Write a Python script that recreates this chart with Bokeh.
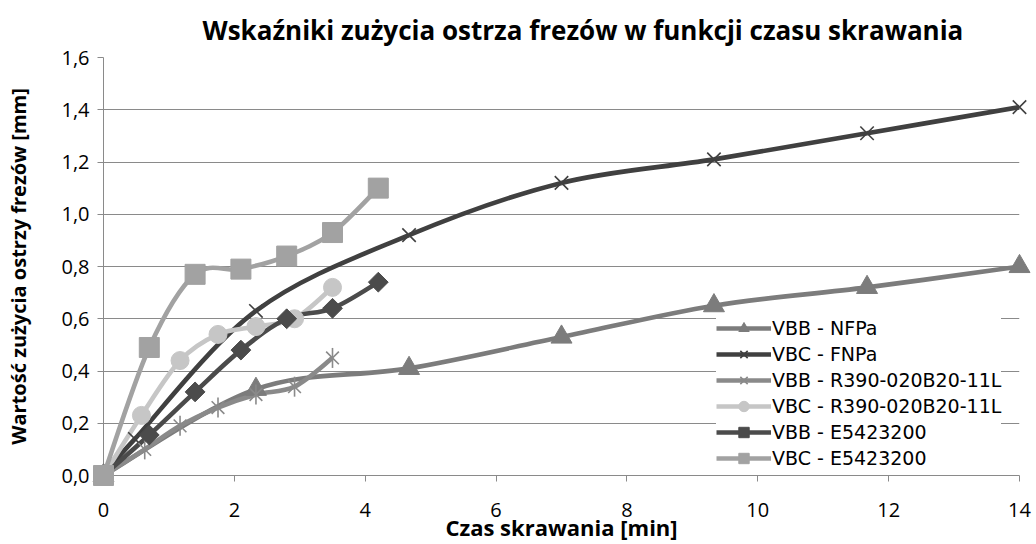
import numpy as np
from bokeh.plotting import figure
from bokeh.models import Legend, LegendItem, FixedTicker, Range1d
from bokeh.embed import file_html
from bokeh.resources import INLINE

FONT = "Open Sans"
LEG_FONT = "DejaVu Sans"

# ---------------- data ----------------
title_text = "Wskaźniki zużycia ostrza frezów w funkcji czasu skrawania"
x_label = "Czas skrawania [min]"
y_label = "Wartość zużycia ostrzy frezów [mm]"

x_ticks = [0, 2, 4, 6, 8, 10, 12, 14]
y_ticks = [0.0, 0.2, 0.4, 0.6, 0.8, 1.0, 1.2, 1.4, 1.6]
y_tick_labels = ["0,0", "0,2", "0,4", "0,6", "0,8", "1,0", "1,2", "1,4", "1,6"]

series_names = ["VBB - NFPa", "VBC - FNPa", "VBB - R390-020B20-11L",
                "VBC - R390-020B20-11L", "VBB - E5423200", "VBC - E5423200"]

nfpa_x = [0, 2.33, 4.67, 7.0, 9.33, 11.67, 14.0]
nfpa_vbb = [0, 0.33, 0.41, 0.53, 0.65, 0.72, 0.80]

fnpa_x = [0, 0.48, 2.33, 4.67, 7.0, 9.33, 11.67, 14.0]
fnpa_vbc = [0, 0.14, 0.63, 0.92, 1.12, 1.21, 1.31, 1.41]

r390_vbb_x = [0, 0.63, 1.17, 1.75, 2.33, 2.92, 3.5]
r390_vbb = [0, 0.10, 0.19, 0.26, 0.31, 0.34, 0.45]
r390_vbc_x = [0, 0.58, 1.17, 1.75, 2.33, 2.92, 3.5]
r390_vbc = [0, 0.23, 0.44, 0.54, 0.57, 0.60, 0.72]

e54_x = [0, 0.7, 1.4, 2.1, 2.8, 3.5, 4.2]
e54_vbb = [0, 0.155, 0.32, 0.48, 0.60, 0.64, 0.74]
e54_vbc = [0, 0.49, 0.77, 0.79, 0.84, 0.93, 1.10]

# ---------------- styles ----------------
styles = [
    dict(color="#7c7c7c", markers=[("triangle", 21, 0, 1)]),
    dict(color="#404040", markers=[("x", 19, 0, 1.6)]),
    dict(color="#8a8a8a", markers=[("x", 18, 0, 1.6), ("dash", 20, np.pi / 2, 1.6)]),
    dict(color="#c6c6c6", markers=[("circle", 18, 0, 1)]),
    dict(color="#4b4b4b", markers=[("square", 14, np.pi / 4, 1)]),
    dict(color="#a2a2a2", markers=[("square", 20, 0, 1)]),
]
series = [(nfpa_x, nfpa_vbb), (fnpa_x, fnpa_vbc), (r390_vbb_x, r390_vbb),
          (r390_vbc_x, r390_vbc), (e54_x, e54_vbb), (e54_x, e54_vbc)]


def smooth_segments(xs, ys):
    """Bezier control points (Excel-like smoothing) from the data points."""
    P = np.column_stack([np.asarray(xs, float), np.asarray(ys, float)])
    prev = np.vstack([P[:1], P[:-1]])
    nxt = np.vstack([P[1:], P[-1:]])
    tan = (nxt - prev) / 6.0
    a, b = P[:-1], P[1:]
    c0 = a + tan[:-1]
    c1 = b - tan[1:]
    return dict(x0=a[:, 0], y0=a[:, 1], x1=b[:, 0], y1=b[:, 1],
                cx0=c0[:, 0], cy0=c0[:, 1], cx1=c1[:, 0], cy1=c1[:, 1])


p = figure(width=1036, height=544,
           x_range=Range1d(0, 14), y_range=Range1d(0, 1.6),
           output_backend="svg", toolbar_location=None,
           min_border_left=103, min_border_right=17,
           min_border_top=57, min_border_bottom=69)

p.title.text = title_text
p.title.text_font = FONT
p.title.text_font_size = "26px"
p.title.text_font_style = "bold"
p.title.text_color = "#000000"
p.title.align = "left"
p.title.vertical_align = "top"
p.title.offset = 99
p.title.standoff = 16

p.outline_line_color = None
p.xgrid.grid_line_color = None
p.ygrid.grid_line_color = "#8a8a8a"
p.ygrid.grid_line_width = 1

for ax in (p.xaxis[0], p.yaxis[0]):
    ax.axis_line_color = "#8a8a8a"
    ax.axis_line_width = 1
    ax.major_tick_line_color = "#8a8a8a"
    ax.major_tick_out = 6
    ax.major_tick_in = 0
    ax.minor_tick_line_color = None
    ax.major_label_text_font = FONT
    ax.major_label_text_font_size = "20px"
    ax.major_label_text_color = "#000000"
    ax.axis_label_text_font = FONT
    ax.axis_label_text_font_style = "bold"
    ax.axis_label_text_color = "#000000"

p.xaxis.axis_label_text_font_size = "22px"
p.yaxis.axis_label_text_font_size = "20px"
p.xaxis.ticker = FixedTicker(ticks=x_ticks)
p.yaxis.ticker = FixedTicker(ticks=y_ticks)
p.yaxis.major_label_overrides = {t: l for t, l in zip(y_ticks, y_tick_labels)}
p.xaxis.axis_label = x_label
p.yaxis.axis_label = y_label
p.xaxis.major_label_standoff = 21
p.xaxis.axis_label_standoff = -8
p.yaxis.major_label_standoff = 8
p.yaxis.axis_label_standoff = 26

items = []
for name, (xs, ys), st in zip(series_names, series, styles):
    p.bezier(source=smooth_segments(xs, ys), x0="x0", y0="y0", x1="x1", y1="y1",
             cx0="cx0", cy0="cy0", cx1="cx1", cy1="cy1",
             line_color=st["color"], line_width=4.6)
    # legend proxy for the line sample
    leg_line = p.line(x=[np.nan], y=[np.nan], line_color=st["color"], line_width=4.6)
    rends = [leg_line]
    for mk, sz, ang, lw in st["markers"]:
        line_only = mk in ("x", "dash")
        sc = p.scatter(x=xs, y=ys, marker=mk, size=sz, angle=ang,
                       fill_color=None if line_only else st["color"],
                       line_color=st["color"], line_width=lw, level="overlay")
        rends.append(sc)
    items.append(LegendItem(label=name, renderers=rends))

legend = Legend(items=items, location=(613, 4),
                label_text_font=LEG_FONT, label_text_font_size="19px",
                label_text_color="#000000",
                glyph_width=55, glyph_height=26, label_height=26,
                label_standoff=1, spacing=0, padding=0, margin=0,
                border_line_color=None, background_fill_color="white",
                background_fill_alpha=1.0)
p.add_layout(legend, "center")

open("out.html", "w").write(file_html(p, INLINE))
